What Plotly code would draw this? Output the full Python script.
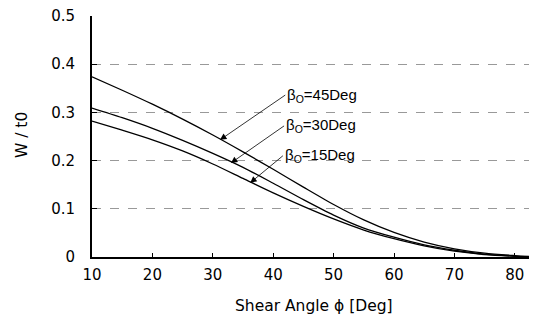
import plotly.graph_objects as go

phi = [10, 15, 20, 25, 30, 35, 40, 45, 50, 55, 60, 65, 70, 75, 80, 84]
w_45 = [0.374, 0.346, 0.317, 0.286, 0.253, 0.218, 0.182, 0.145, 0.109, 0.077, 0.051, 0.031, 0.017, 0.008, 0.003, 0.0]
w_30 = [0.309, 0.289, 0.267, 0.242, 0.215, 0.186, 0.153, 0.119, 0.087, 0.060, 0.041, 0.025, 0.014, 0.006, 0.002, 0.0]
w_15 = [0.282, 0.263, 0.243, 0.220, 0.193, 0.163, 0.133, 0.105, 0.079, 0.056, 0.038, 0.023, 0.012, 0.005, 0.0015, 0.0]

labels = ["β<sub>O</sub>=45Deg", "β<sub>O</sub>=30Deg", "β<sub>O</sub>=15Deg"]
tips = [(31.2, 0.243), (33.0, 0.195), (36.2, 0.154)]
label_pos = [(42.0, 0.336), (41.8, 0.272), (41.6, 0.210)]

x_ticks = [10, 20, 30, 40, 50, 60, 70, 80]
y_ticks = [0, 0.1, 0.2, 0.3, 0.4, 0.5]
y_tick_text = ["0", "0.1", "0.2", "0.3", "0.4", "0.5"]

FONT = "DejaVu Sans, sans-serif"
AFONT = "Liberation Sans, Arial, sans-serif"

fig = go.Figure()
for ys in (w_45, w_30, w_15):
    fig.add_trace(go.Scatter(x=phi, y=ys, mode="lines",
                             line=dict(color="black", width=1.3, shape="spline", smoothing=0.8),
                             showlegend=False))

for lab, (tx, ty), (lx, ly) in zip(labels, tips, label_pos):
    fig.add_annotation(x=tx, y=ty, ax=lx, ay=ly, axref="x", ayref="y", xref="x", yref="y",
                       text=lab, showarrow=True, arrowhead=2, arrowsize=1.6, arrowwidth=0.8,
                       arrowcolor="black", xanchor="left", yanchor="middle",
                       font=dict(family=AFONT, size=15, color="black"))

fig.add_annotation(text="Shear Angle ϕ [Deg]", xref="paper", yref="paper", x=0.49, y=-0.205,
                   xanchor="center", yanchor="middle", showarrow=False,
                   font=dict(family=FONT, size=15.5, color="black"))
fig.add_annotation(text="W / t0", xref="paper", yref="paper", x=-0.139, y=0.506, textangle=-90,
                   xanchor="center", yanchor="middle", showarrow=False, xshift=-7,
                   font=dict(family=FONT, size=15.5, color="black"))

fig.update_layout(
    width=537, height=328,
    margin=dict(l=84, r=0, t=8, b=79),
    paper_bgcolor="white", plot_bgcolor="white",
    font=dict(family=FONT, size=15, color="black"),
    xaxis=dict(range=[10, 85], tickvals=x_ticks, showgrid=False, showline=True, linecolor="black", linewidth=1.5,
               ticks="inside", ticklen=4, tickcolor="black", zeroline=False, automargin=False,
               ticklabelstandoff=3),
    yaxis=dict(range=[0, 0.5], tickvals=y_ticks, ticktext=y_tick_text, showgrid=True, gridcolor="#999999",
               griddash="dash", gridwidth=0.8, showline=True, linecolor="black", linewidth=1.8,
               ticks="inside", ticklen=5, tickcolor="black", zeroline=False, automargin=False,
               ticklabelstandoff=12, ticklabeloverflow="allow"),
)

fig.write_html("out.html")
